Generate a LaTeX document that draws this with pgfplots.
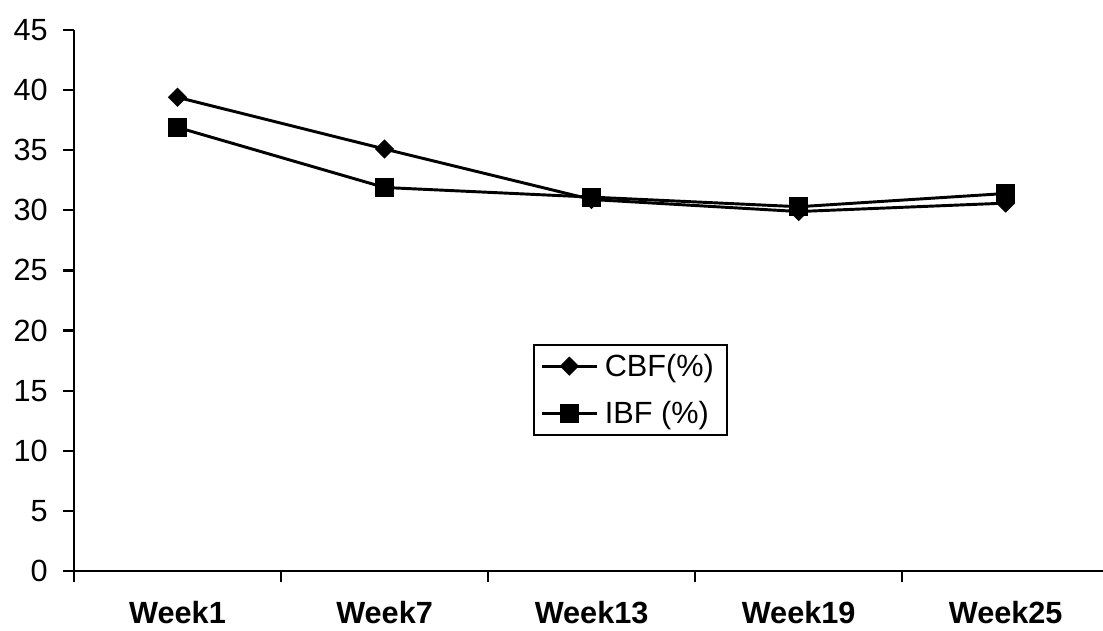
\documentclass[border=0pt]{standalone}
\usepackage{pgfplots}
\pgfplotsset{compat=1.18}
\usepackage{fontspec}
\setmainfont{Liberation Sans}
\begin{document}
\begin{tikzpicture}
\begin{axis}[
 scale only axis, width=771.75pt, height=405.75pt,
 xmin=-0.5, xmax=4.47, ymin=0, ymax=45,
 axis lines=left, axis line style={-, line width=1.6pt},
 ytick={0,5,...,45},
 tick align=outside, major tick length=8.25pt, minor tick length=8.25pt,
 tick style={black, line width=1.6pt},
 xtick={0,1,2,3,4},
 xticklabels={Week1,Week7,Week13,Week19,Week25},
 major x tick style={draw=none},
 minor xtick={-0.5,0.5,1.5,2.5,3.5},
 xticklabel style={font=\fontsize{23}{27}\selectfont\bfseries, yshift=-11pt},
 yticklabel style={font=\fontsize{23}{27}\selectfont, xshift=-8pt},
 /pgf/number format/assume math mode=true,
 legend style={at={(0.446,0.42)}, anchor=north west, draw=black, line width=1.5pt,
   font=\fontsize{23}{27}\selectfont, inner xsep=5pt, inner ysep=5pt, row sep=13pt,
   nodes={inner xsep=5pt}},
 legend cell align=left,
 legend image code/.code={\draw[mark repeat=2,mark phase=2] plot coordinates {(0cm,0cm)(0.72cm,0cm)(1.44cm,0cm)};},
]
\addplot[black, line width=2.2pt, mark=square*, mark size=4pt, mark options={rotate=45, solid}] coordinates {(0,39.4) (1,35.1) (2,30.9) (3,29.9) (4,30.6)};
\addlegendentry{CBF(\%)}
\addplot[black, line width=2.2pt, mark=square*, mark size=6pt, mark options={solid}] coordinates {(0,36.9) (1,31.9) (2,31.1) (3,30.3) (4,31.4)};
\addlegendentry{IBF (\%)}
\end{axis}
\path (current axis.south west) ++(-55.5pt,-45pt) coordinate (a);
\path (current axis.north east) ++(0pt,22.5pt) coordinate (b);
\pgfresetboundingbox
\path[use as bounding box] (a) rectangle (b);
\end{tikzpicture}
\end{document}
